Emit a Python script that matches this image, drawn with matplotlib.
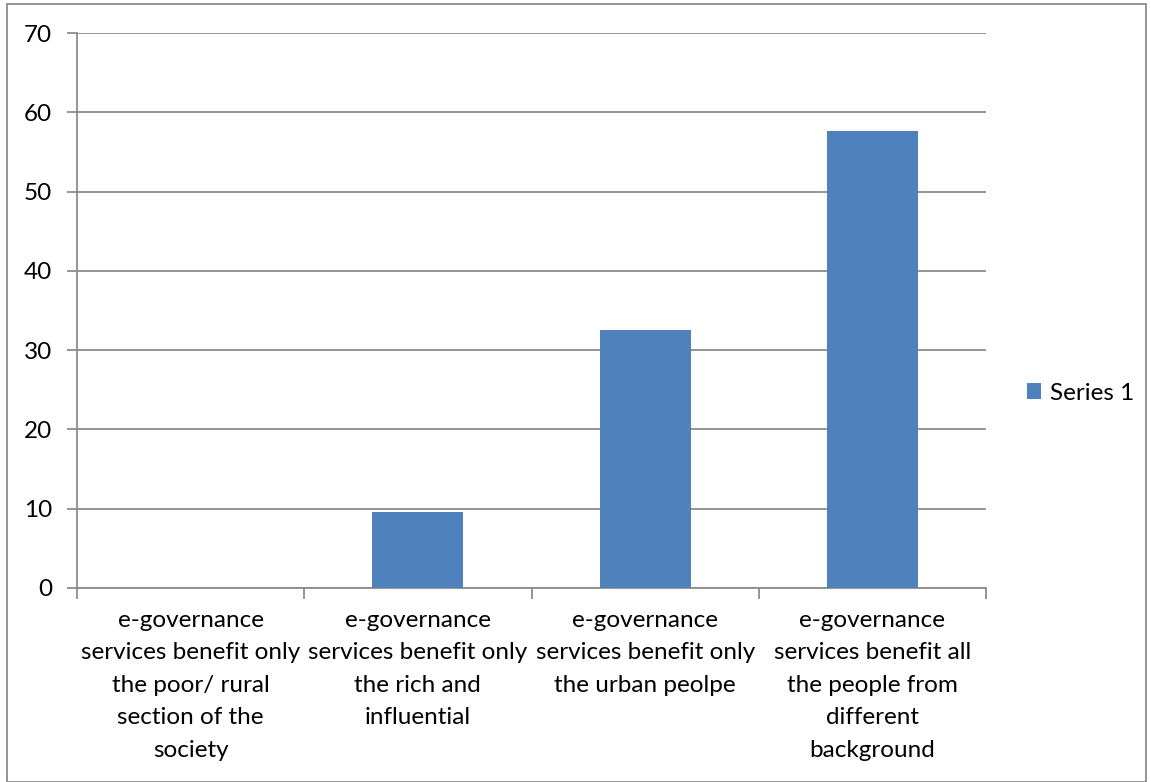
import matplotlib
matplotlib.use("Agg")
import matplotlib.pyplot as plt
from matplotlib.patches import Rectangle

categories = [
    "e-governance\nservices benefit only\nthe poor/ rural\nsection of the\nsociety",
    "e-governance\nservices benefit only\nthe rich and\ninfluential",
    "e-governance\nservices benefit only\nthe urban peolpe",
    "e-governance\nservices benefit all\nthe people from\ndifferent\nbackground",
]
series_1 = [0.0, 9.6, 32.6, 57.7]
yticks = [0, 10, 20, 30, 40, 50, 60, 70]

plt.rcParams['font.family'] = ['Lato', 'DejaVu Sans']

W, H = 1150, 782
FS = 17.5
fig = plt.figure(figsize=(W / 100, H / 100), dpi=100)
ax = fig.add_axes([77 / W, 1 - 588 / H, (986 - 77) / W, (588 - 33) / H])

bar_color = "#4F81BD"
grid_color = "#8C8C8C"
x = list(range(len(categories)))
ax.bar(x, series_1, width=0.4, color=bar_color, zorder=3, label="Series 1")

ax.set_xlim(-0.5, len(categories) - 0.5)
ax.set_ylim(0, 70)
ax.set_yticks(yticks)
ax.set_yticklabels([str(v) for v in yticks], fontsize=FS)
ax.yaxis.grid(True, color=grid_color, linewidth=1.3, zorder=0)
ax.tick_params(axis='y', length=7, width=1.3, color=grid_color, pad=11)

# category boundary ticks on x axis
ax.set_xticks([i - 0.5 for i in range(len(categories) + 1)])
ax.set_xticklabels([])
ax.tick_params(axis='x', length=8, width=1.3, color=grid_color)
for i, lab in enumerate(categories):
    ax.text(i, -2.75, lab, ha='center', va='top', fontsize=FS,
            linespacing=1.68, transform=ax.transData)

for s in ['top', 'right']:
    ax.spines[s].set_visible(False)
for s in ['left', 'bottom']:
    ax.spines[s].set_color(grid_color)
    ax.spines[s].set_linewidth(1.3)

leg = fig.legend(loc='center left', bbox_to_anchor=(1005 / W, 1 - 393 / H),
                 frameon=False, fontsize=FS, handlelength=0.6,
                 handleheight=0.6, handletextpad=0.35)

# outer chart frame
fig.patches.append(Rectangle((7 / W, 0), (1146 - 7) / W, 1 - 4 / H,
                             transform=fig.transFigure, fill=False,
                             edgecolor=grid_color, linewidth=1.3))

fig.savefig("out.png", dpi=100)
